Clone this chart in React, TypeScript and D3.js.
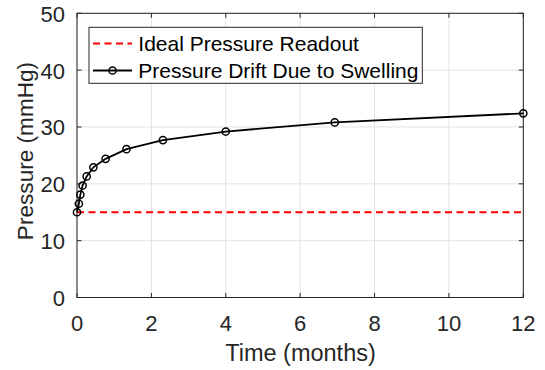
import React from "react";
import * as d3 from "d3";

const timeMonths = [0, 0.05, 0.09, 0.15, 0.26, 0.44, 0.77, 1.33, 2.31, 4.0, 6.93, 12];
const pressureDrift = [15.0, 16.5, 18.1, 19.7, 21.3, 22.9, 24.4, 26.1, 27.7, 29.2, 30.8, 32.4];
const idealTime = [0, 12];
const idealPressure = [15, 15];
const xTicks = [0, 2, 4, 6, 8, 10, 12];
const yTicks = [0, 10, 20, 30, 40, 50];
const legendLabels = ["Ideal Pressure Readout", "Pressure Drift Due to Swelling"];

export default function App() {
  const W = 545, H = 370;
  const left = 77, right = 523.3, top = 13.3, bottom = 297.5;
  const x = d3.scaleLinear().domain([0, 12]).range([left, right]);
  const y = d3.scaleLinear().domain([0, 50]).range([bottom, top]);
  const line = d3.line<[number, number]>().x(d => x(d[0])).y(d => y(d[1]));
  const drift: [number, number][] = timeMonths.map((t, i) => [t, pressureDrift[i]]);
  const ideal: [number, number][] = idealTime.map((t, i) => [t, idealPressure[i]]);
  const axisColor = "#262626";
  const font = "'Liberation Sans', Arial, Helvetica, sans-serif";
  const tl = 4.5;
  return (
    <svg width={W} height={H} style={{ position: "absolute", left: 0, top: 0 }} fontFamily={font}>
      <rect x={0} y={0} width={W} height={H} fill="#fff" />
      {xTicks.map(t => (
        <line key={"gx" + t} x1={x(t)} x2={x(t)} y1={top} y2={bottom} stroke="#e3e3e3" strokeWidth={1} />
      ))}
      {yTicks.map(t => (
        <line key={"gy" + t} x1={left} x2={right} y1={y(t)} y2={y(t)} stroke="#e3e3e3" strokeWidth={1} />
      ))}
      {xTicks.map(t => (
        <g key={"tx" + t}>
          <line x1={x(t)} x2={x(t)} y1={bottom} y2={bottom - tl} stroke={axisColor} />
          <line x1={x(t)} x2={x(t)} y1={top} y2={top + tl} stroke={axisColor} />
          <text x={x(t)} y={331} textAnchor="middle" fontSize={22} fill={axisColor}>{t}</text>
        </g>
      ))}
      {yTicks.map(t => (
        <g key={"ty" + t}>
          <line x1={left} x2={left + tl} y1={y(t)} y2={y(t)} stroke={axisColor} />
          <line x1={right} x2={right - tl} y1={y(t)} y2={y(t)} stroke={axisColor} />
          <text x={65} y={y(t) + 8.5} textAnchor="end" fontSize={22} fill={axisColor}>{t}</text>
        </g>
      ))}
      <rect x={left} y={top} width={right - left} height={bottom - top} fill="none" stroke={axisColor} strokeWidth={1} />
      <path d={line(ideal) || ""} fill="none" stroke="#ff0000" strokeWidth={2} strokeDasharray="7,4.5" />
      <path d={line(drift) || ""} fill="none" stroke="#000" strokeWidth={1.8} />
      {drift.map((d, i) => (
        <circle key={"c" + i} cx={x(d[0])} cy={y(d[1])} r={3.6} fill="none" stroke="#000" strokeWidth={1.5} />
      ))}
      <text x={300.5} y={361} textAnchor="middle" fontSize={23.5} fill={axisColor}>Time (months)</text>
      <text transform={`translate(33.3,151) rotate(-90)`} textAnchor="middle" fontSize={22.6} fill={axisColor}>Pressure (mmHg)</text>
      <g>
        <rect x={89} y={27.3} width={333.3} height={56} fill="#fff" stroke={axisColor} strokeWidth={1} />
        <line x1={93} x2={132} y1={43.5} y2={43.5} stroke="#ff0000" strokeWidth={2} strokeDasharray="7,4.5" />
        <text x={138.3} y={51} fontSize={21} fill="#000">{legendLabels[0]}</text>
        <line x1={93} x2={132} y1={70.5} y2={70.5} stroke="#000" strokeWidth={1.8} />
        <circle cx={112.5} cy={70.5} r={3.6} fill="none" stroke="#000" strokeWidth={1.5} />
        <text x={138.3} y={77.5} fontSize={21} fill="#000">{legendLabels[1]}</text>
      </g>
    </svg>
  );
}
